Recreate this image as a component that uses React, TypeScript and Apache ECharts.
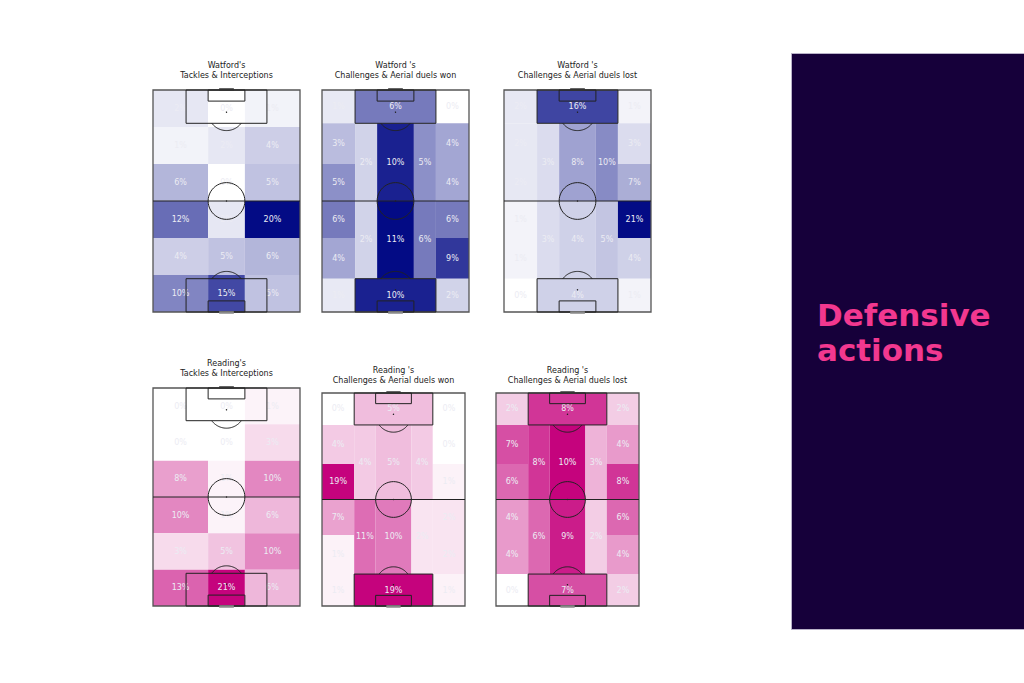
import React, { useEffect, useRef } from "react";
import * as echarts from "echarts";

// ---------- DATA ----------
// 3 x 6 grid pitches (column edges / row edges in StatsBomb pitch units, 80 x 120)
const gridColEdges = [0, 30, 50, 80];
const gridRowEdges = [0, 20, 40, 60, 80, 100, 120];

// values (% of actions), rows top -> bottom, columns left -> right
const watfordTackles = [
  [2, 0, 1],
  [1, 2, 4],
  [6, 0, 5],
  [12, 2, 20],
  [4, 5, 6],
  [10, 15, 5],
];
const readingTackles = [
  [0, 0, 1],
  [0, 0, 3],
  [8, 1, 10],
  [10, 1, 6],
  [3, 5, 10],
  [13, 21, 6],
];

// positional zones [x0, x1, y0, y1]
const positionalZones = [
  [0, 18, 0, 18], [18, 62, 0, 18], [62, 80, 0, 18],
  [0, 18, 18, 40], [0, 18, 40, 60], [18, 30, 18, 60], [30, 50, 18, 60], [50, 62, 18, 60], [62, 80, 18, 40], [62, 80, 40, 60],
  [0, 18, 60, 80], [0, 18, 80, 102], [18, 30, 60, 102], [30, 50, 60, 102], [50, 62, 60, 102], [62, 80, 60, 80], [62, 80, 80, 102],
  [0, 18, 102, 120], [18, 62, 102, 120], [62, 80, 102, 120],
];
const watfordWon = [1, 6, 0, 3, 5, 2, 10, 5, 4, 4, 6, 4, 2, 11, 6, 6, 9, 1, 10, 2];
const watfordLost = [2, 16, 1, 2, 2, 3, 8, 10, 3, 7, 1, 1, 3, 4, 5, 21, 4, 0, 4, 1];
const readingWon = [0, 5, 0, 4, 19, 4, 5, 4, 0, 1, 7, 1, 11, 10, 2, 2, 2, 1, 19, 1];
const readingLost = [2, 8, 2, 7, 6, 8, 10, 3, 4, 8, 4, 4, 6, 9, 2, 6, 4, 0, 7, 2];

const titlesLine1 = ["Watford's", "Watford 's", "Watford 's", "Reading's", "Reading 's", "Reading 's"];
const titlesLine2 = [
  "Tackles & Interceptions",
  "Challenges & Aerial duels won",
  "Challenges & Aerial duels lost",
  "Tackles & Interceptions",
  "Challenges & Aerial duels won",
  "Challenges & Aerial duels lost",
];

// ---------- helpers ----------
function gridZones(values: number[][]) {
  const out: number[][] = [];
  values.forEach((row, r) =>
    row.forEach((v, c) => {
      out.push([gridColEdges[c], gridColEdges[c + 1], gridRowEdges[r], gridRowEdges[r + 1], v]);
    })
  );
  return out;
}
function posZones(values: number[]) {
  return positionalZones.map((z, i) => [z[0], z[1], z[2], z[3], values[i]]);
}

const BLUE = "#030b85";
const PINK = "#c5037d";
const FONT = "DejaVu Sans";

const pitches = [
  { data: gridZones(watfordTackles), color: BLUE, box: [153, 90, 147, 222], titleY: 65 },
  { data: posZones(watfordWon), color: BLUE, box: [322, 90, 147, 222], titleY: 65 },
  { data: posZones(watfordLost), color: BLUE, box: [504, 90, 147, 222], titleY: 65 },
  { data: gridZones(readingTackles), color: PINK, box: [153, 388, 147, 218], titleY: 363 },
  { data: posZones(readingWon), color: PINK, box: [322, 393, 143, 213], titleY: 370 },
  { data: posZones(readingLost), color: PINK, box: [496, 393, 143, 213], titleY: 370 },
];

function zoneRender(params: any, api: any) {
  const p0 = api.coord([api.value(0), api.value(2)]);
  const p1 = api.coord([api.value(1), api.value(3)]);
  const x = Math.min(p0[0], p1[0]);
  const y = Math.min(p0[1], p1[1]);
  const w = Math.abs(p1[0] - p0[0]);
  const h = Math.abs(p1[1] - p0[1]);
  return {
    type: "group",
    children: [
      { type: "rect", shape: { x, y, width: w, height: h }, style: { fill: api.visual("color") } },
      {
        type: "text",
        x: x + w / 2,
        y: y + h / 2,
        style: {
          text: api.value(4) + "%",
          fill: "#ececf3",
          fontSize: 8,
          fontFamily: FONT,
          align: "center",
          verticalAlign: "middle",
        },
      },
    ],
  };
}

function arcPoints(cx: number, cy: number, r: number, from: number, to: number) {
  const pts: number[][] = [];
  const n = 40;
  for (let k = 0; k <= n; k++) {
    const t = from + ((to - from) * k) / n;
    pts.push([cx + r * Math.cos(t), cy + r * Math.sin(t)]);
  }
  return pts;
}

function markingsRender(params: any, api: any) {
  const c = (x: number, y: number) => api.coord([x, y]);
  const r = Math.abs(api.size([10, 10])[0]);
  const line = { stroke: "#222", lineWidth: 1, fill: "none" };
  const rectOf = (x0: number, y0: number, x1: number, y1: number, style: any) => {
    const a = c(x0, y0);
    const b = c(x1, y1);
    return {
      type: "rect",
      shape: { x: Math.min(a[0], b[0]), y: Math.min(a[1], b[1]), width: Math.abs(b[0] - a[0]), height: Math.abs(b[1] - a[1]) },
      style,
    };
  };
  const ctr = c(40, 60);
  const topSpot = c(40, 12);
  const botSpot = c(40, 108);
  const t0 = c(36, 0);
  const t1 = c(44, 0);
  const b0 = c(36, 120);
  const b1 = c(44, 120);
  const a = Math.asin(0.6);
  return {
    type: "group",
    children: [
      rectOf(0, 0, 80, 120, { stroke: "#555", lineWidth: 1.3, fill: "none" }),
      { type: "line", shape: { x1: c(0, 60)[0], y1: ctr[1], x2: c(80, 60)[0], y2: ctr[1] }, style: line },
      { type: "circle", shape: { cx: ctr[0], cy: ctr[1], r }, style: line },
      rectOf(18, 0, 62, 18, line),
      rectOf(18, 102, 62, 120, line),
      rectOf(30, 0, 50, 6, line),
      rectOf(30, 114, 50, 120, line),
      { type: "polyline", shape: { points: arcPoints(topSpot[0], topSpot[1], r, a, Math.PI - a) }, style: line },
      { type: "polyline", shape: { points: arcPoints(botSpot[0], botSpot[1], r, Math.PI + a, 2 * Math.PI - a) }, style: line },
      { type: "circle", shape: { cx: topSpot[0], cy: topSpot[1], r: 0.7 }, style: { fill: "#222" } },
      { type: "circle", shape: { cx: botSpot[0], cy: botSpot[1], r: 0.7 }, style: { fill: "#222" } },
      { type: "circle", shape: { cx: ctr[0], cy: ctr[1], r: 0.7 }, style: { fill: "#222" } },
      { type: "line", shape: { x1: t0[0], y1: t0[1] - 0.5, x2: t1[0], y2: t1[1] - 0.5 }, style: { stroke: "#333", lineWidth: 2.5 } },
      { type: "line", shape: { x1: b0[0], y1: b0[1] + 0.5, x2: b1[0], y2: b1[1] + 0.5 }, style: { stroke: "#888", lineWidth: 2.5 } },
    ],
  };
}

export default function App() {
  const ref = useRef<HTMLDivElement>(null);
  useEffect(() => {
    if (!ref.current) return;
    const chart = echarts.init(ref.current, null, { renderer: "svg" });

    const grid: any[] = [];
    const xAxis: any[] = [];
    const yAxis: any[] = [];
    const series: any[] = [];
    const visualMap: any[] = [];
    const graphic: any[] = [];

    pitches.forEach((p, i) => {
      const [left, top, width, height] = p.box;
      grid.push({ left, top, width, height });
      xAxis.push({ type: "value", gridIndex: i, min: 0, max: 80, show: false });
      yAxis.push({ type: "value", gridIndex: i, min: 0, max: 120, inverse: true, show: false });
      series.push({
        type: "custom",
        xAxisIndex: i,
        yAxisIndex: i,
        renderItem: zoneRender,
        encode: { x: [0, 1], y: [2, 3] },
        data: p.data,
        z: 1,
        silent: true,
      });
      series.push({
        type: "custom",
        xAxisIndex: i,
        yAxisIndex: i,
        renderItem: markingsRender,
        encode: { x: 0, y: 1 },
        data: [[40, 60]],
        z: 2,
        silent: true,
      });
      const maxVal = Math.max(...p.data.map((d) => d[4]));
      visualMap.push({
        type: "continuous",
        show: false,
        seriesIndex: 2 * i,
        dimension: 4,
        min: 0,
        max: maxVal,
        inRange: { color: ["#ffffff", p.color] },
      });
      const cx = left + width / 2;
      graphic.push({
        type: "text",
        x: cx,
        y: p.titleY,
        style: { text: titlesLine1[i], fill: "#222", fontSize: 8, fontFamily: FONT, align: "center", verticalAlign: "middle" },
      });
      graphic.push({
        type: "text",
        x: cx,
        y: p.titleY + 10,
        style: { text: titlesLine2[i], fill: "#222", fontSize: 8, fontFamily: FONT, align: "center", verticalAlign: "middle" },
      });
    });

    graphic.push({
      type: "rect",
      shape: { x: 791.5, y: 53.5, width: 240, height: 576 },
      style: { fill: "#16003a", stroke: "#b9b2c8", lineWidth: 1 },
    });
    graphic.push({
      type: "text",
      x: 817,
      y: 315,
      style: { text: "Defensive", fill: "#f2388f", fontSize: 31, fontWeight: "bold", fontFamily: FONT, align: "left", verticalAlign: "middle" },
    });
    graphic.push({
      type: "text",
      x: 817,
      y: 350,
      style: { text: "actions", fill: "#f2388f", fontSize: 31, fontWeight: "bold", fontFamily: FONT, align: "left", verticalAlign: "middle" },
    });

    chart.setOption({
      animation: false,
      backgroundColor: "#ffffff",
      grid,
      xAxis,
      yAxis,
      visualMap,
      series,
      graphic,
    });
    return () => chart.dispose();
  }, []);
  return <div ref={ref} style={{ position: "absolute", left: 0, top: 0, width: 1024, height: 683 }} />;
}
